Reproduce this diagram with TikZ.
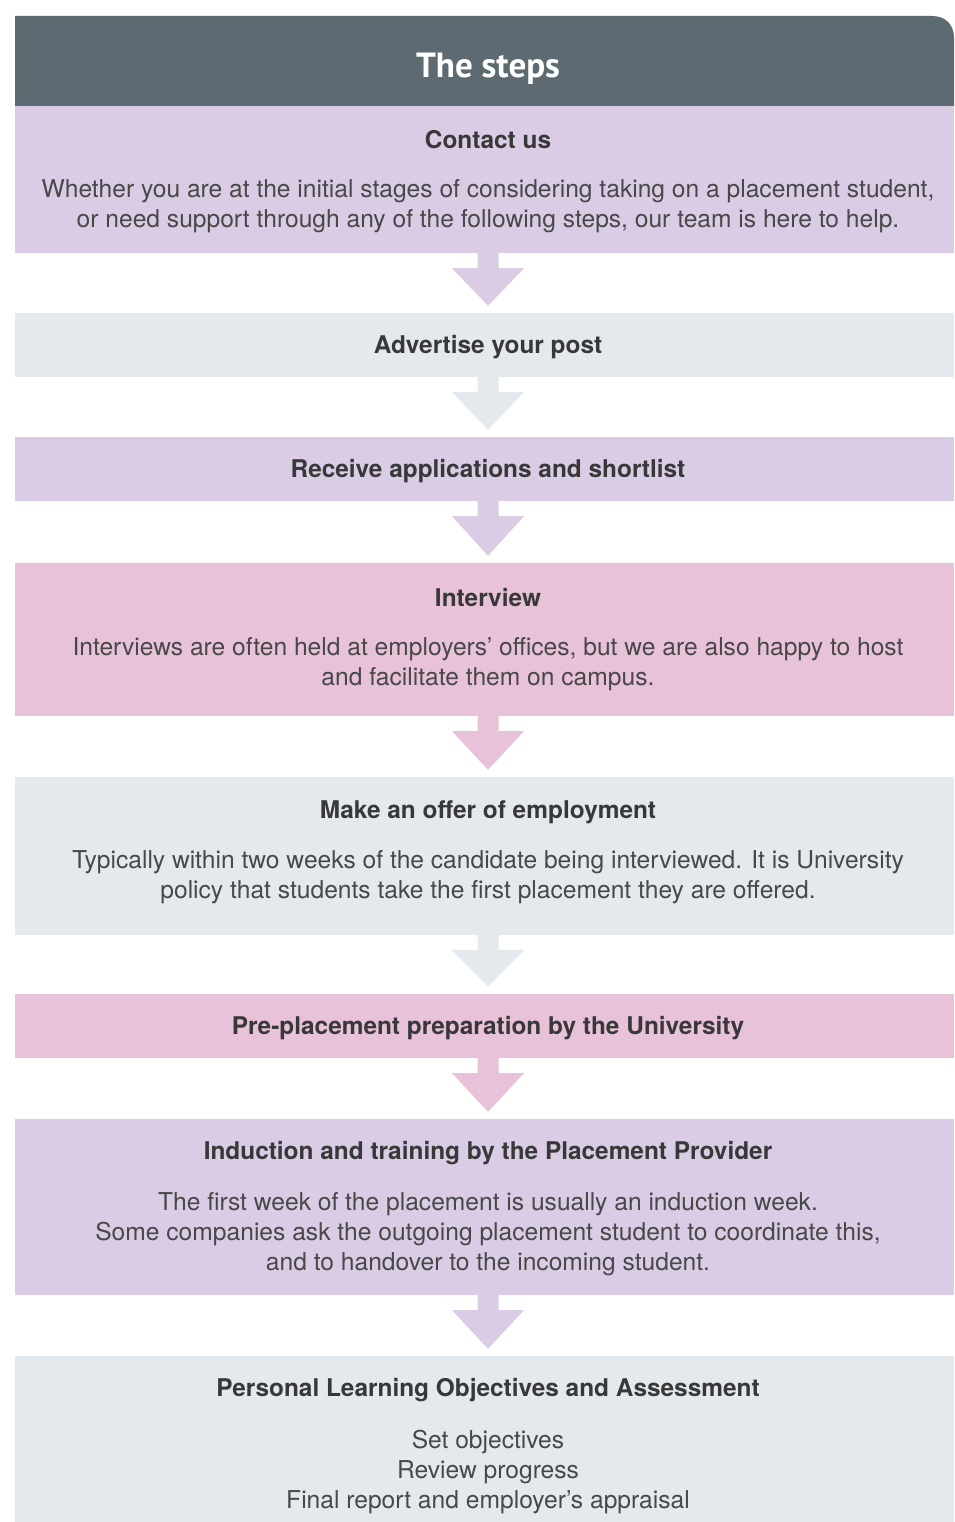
\documentclass[tikz,border=0pt]{standalone}
\usepackage{fontspec}
\setmainfont{TeX Gyre Heros}
\newfontfamily\hdrfont{PT Sans}
\usetikzlibrary{calc}
\definecolor{hdrc}{HTML}{5E6A71}
\definecolor{purp}{HTML}{D9CCE4}
\definecolor{lite}{HTML}{E3E9ED}
\definecolor{pink}{HTML}{E8C2D9}
\definecolor{ttl}{HTML}{383838}
\definecolor{bdy}{HTML}{484848}
\tikzset{
  stepbox/.style={rectangle, inner sep=0pt, minimum width=939pt, draw=none},
  ttltext/.style={text=ttl, font=\bfseries\fontsize{24.4}{28}\selectfont, inner sep=0pt, anchor=center},
  bdytext/.style={text=bdy, font=\fontsize{24.6}{30}\selectfont, align=center, inner sep=0pt, anchor=center},
}
\newcommand{\flowarrow}[3]{%
  \fill[#3] ($(#1.south)+(-7,0)$) -- ++(0,15) -- ++(-25.5,0)
     -- ($(#2.north)+(3.5,-7)$) -- ($(#1.south)+(39.5,15)$) -- ++(-25.5,0) -- ($(#1.south)+(14,0)$) -- cycle;}
\begin{document}
\begin{tikzpicture}[x=1pt,y=-1pt]
\useasboundingbox (0,0) rectangle (954,1522);
% header
\fill[hdrc] (15,106) -- (15,16) -- (932,16) .. controls (946,16) and (954,25) .. (954,38) -- (954,106) -- cycle;
\node[text=white, font=\hdrfont\bfseries\fontsize{35}{40}\selectfont, inner sep=0pt] (hdr) at (488,69) {The steps};
% boxes
\node[stepbox, fill=purp, minimum height=147pt] (b1) at (484.5,179.5) {};
\node[stepbox, fill=lite, minimum height=64pt] (b2) at (484.5,345) {};
\node[stepbox, fill=purp, minimum height=64pt] (b3) at (484.5,469) {};
\node[stepbox, fill=pink, minimum height=153pt] (b4) at (484.5,639.5) {};
\node[stepbox, fill=lite, minimum height=158pt] (b5) at (484.5,856) {};
\node[stepbox, fill=pink, minimum height=64pt] (b6) at (484.5,1026) {};
\node[stepbox, fill=purp, minimum height=176pt] (b7) at (484.5,1207) {};
\node[stepbox, fill=lite, minimum height=166pt] (b8) at (484.5,1439) {};
% arrows
\flowarrow{b1}{b2}{purp}
\flowarrow{b2}{b3}{lite}
\flowarrow{b3}{b4}{purp}
\flowarrow{b4}{b5}{pink}
\flowarrow{b5}{b6}{lite}
\flowarrow{b6}{b7}{pink}
\flowarrow{b7}{b8}{purp}
% texts
\node[ttltext] (t1) at (488,140) {Contact us};
\node[bdytext] (d1) at (488,206) {Whether you are at the initial stages of considering taking on a placement student,\\or need support through any of the following steps, our team is here to help.};
\node[ttltext] (t2) at (488,347) {Advertise your post};
\node[ttltext] (t3) at (488,471) {Receive applications and shortlist};
\node[ttltext] (t4) at (488,598) {Interview};
\node[bdytext] (d4) at (488,664) {Interviews are often held at employers’ offices, but we are also happy to host\\and facilitate them on campus.};
\node[ttltext] (t5) at (488,812) {Make an offer of employment};
\node[bdytext] (d5) at (488,877) {Typically within two weeks of the candidate being interviewed. It is University\\policy that students take the first placement they are offered.};
\node[ttltext] (t6) at (488,1028) {Pre-placement preparation by the University};
\node[ttltext] (t7) at (488,1153) {Induction and training by the Placement Provider};
\node[bdytext] (d7) at (488,1234) {The first week of the placement is usually an induction week.\\Some companies ask the outgoing placement student to coordinate this,\\and to handover to the incoming student.};
\node[ttltext] (t8) at (488,1390) {Personal Learning Objectives and Assessment};
\node[bdytext] (d8) at (488,1472) {Set objectives\\Review progress\\Final report and employer’s appraisal};
\end{tikzpicture}
\end{document}
